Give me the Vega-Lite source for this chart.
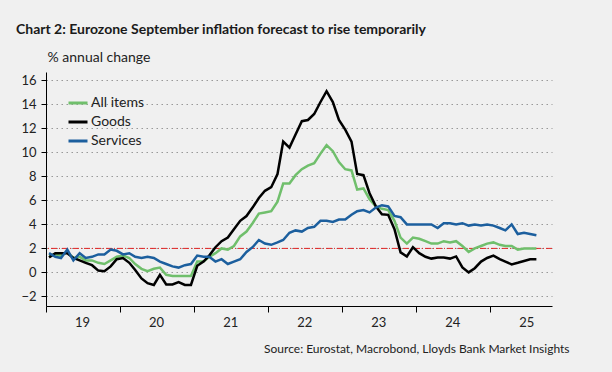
{
  "$schema": "https://vega.github.io/schema/vega-lite/v6.json",
  "width": 506,
  "height": 234,
  "autosize": {"type": "none"},
  "padding": {"left": 46, "top": 72, "right": 60, "bottom": 66},
  "background": "#f0f0f0",
  "config": {
    "view": {"stroke": null},
    "font": "Lato",
    "axis": {"labelFont": "Lato", "titleFont": "Lato", "labelColor": "#222", "titleColor": "#222"},
    "legend": {"labelFont": "Lato"}
  },
  "title": {
    "text": "Chart 2: Eurozone September inflation forecast to rise temporarily",
    "anchor": "start",
    "frame": "group",
    "dx": -30,
    "offset": 13,
    "font": "Lato",
    "fontSize": 14,
    "fontWeight": "bold",
    "color": "#1a1a1a"
  },
  "encoding": {
    "y": {
      "field": "value",
      "type": "quantitative",
      "scale": {"domain": [-2.8, 16.7], "nice": false, "zero": false},
      "axis": {
        "values": [-2, 0, 2, 4, 6, 8, 10, 12, 14, 16],
        "labelFontSize": 13,
        "labelPadding": 5,
        "labelOverlap": false,
        "labelFlush": false,
        "tickSize": 5,
        "tickColor": "#000",
        "domainColor": "#000",
        "grid": true,
        "gridColor": "#999",
        "gridDash": [1.5, 3.5],
        "gridWidth": 1,
        "title": "% annual change",
        "titleFontSize": 14,
        "titleFontWeight": "normal",
        "titleAngle": 0,
        "titleAlign": "left",
        "titleAnchor": null,
        "titleBaseline": "alphabetic",
        "titleX": 1,
        "titleY": -11
      }
    }
  },
  "layer": [
    {
      "data": {"values": [{"value": 2}]},
      "mark": {"type": "rule", "color": "#e02424", "strokeWidth": 1, "strokeDash": [6, 2, 1, 2]}
    },
    {
      "data": {
        "values": [
          {"month":"2019-01-16","All items":1.4,"Goods":1.25,"Services":1.6},
          {"month":"2019-02-16","All items":1.5,"Goods":1.6,"Services":1.3},
          {"month":"2019-03-16","All items":1.4,"Goods":1.6,"Services":1.2},
          {"month":"2019-04-16","All items":1.7,"Goods":1.6,"Services":1.9},
          {"month":"2019-05-16","All items":1.2,"Goods":1.2,"Services":1.0},
          {"month":"2019-06-16","All items":1.3,"Goods":1.0,"Services":1.6},
          {"month":"2019-07-16","All items":1.0,"Goods":0.8,"Services":1.2},
          {"month":"2019-08-16","All items":1.0,"Goods":0.6,"Services":1.3},
          {"month":"2019-09-16","All items":0.8,"Goods":0.15,"Services":1.5},
          {"month":"2019-10-16","All items":0.7,"Goods":0.1,"Services":1.5},
          {"month":"2019-11-16","All items":1.0,"Goods":0.5,"Services":1.9},
          {"month":"2019-12-16","All items":1.3,"Goods":1.1,"Services":1.8},
          {"month":"2020-01-16","All items":1.4,"Goods":1.2,"Services":1.5},
          {"month":"2020-02-16","All items":1.2,"Goods":0.8,"Services":1.6},
          {"month":"2020-03-16","All items":0.7,"Goods":0.2,"Services":1.3},
          {"month":"2020-04-16","All items":0.3,"Goods":-0.5,"Services":1.2},
          {"month":"2020-05-16","All items":0.1,"Goods":-0.9,"Services":1.3},
          {"month":"2020-06-16","All items":0.3,"Goods":-1.05,"Services":1.2},
          {"month":"2020-07-16","All items":0.4,"Goods":-0.2,"Services":0.9},
          {"month":"2020-08-16","All items":-0.2,"Goods":-1.0,"Services":0.7},
          {"month":"2020-09-16","All items":-0.3,"Goods":-1.0,"Services":0.5},
          {"month":"2020-10-16","All items":-0.3,"Goods":-0.8,"Services":0.4},
          {"month":"2020-11-16","All items":-0.3,"Goods":-1.05,"Services":0.6},
          {"month":"2020-12-16","All items":-0.3,"Goods":-1.05,"Services":0.7},
          {"month":"2021-01-16","All items":0.9,"Goods":0.55,"Services":1.4},
          {"month":"2021-02-16","All items":0.9,"Goods":0.9,"Services":1.3},
          {"month":"2021-03-16","All items":1.3,"Goods":1.4,"Services":1.3},
          {"month":"2021-04-16","All items":1.6,"Goods":2.1,"Services":0.9},
          {"month":"2021-05-16","All items":2.0,"Goods":2.6,"Services":1.1},
          {"month":"2021-06-16","All items":1.9,"Goods":2.9,"Services":0.7},
          {"month":"2021-07-16","All items":2.2,"Goods":3.6,"Services":0.9},
          {"month":"2021-08-16","All items":3.0,"Goods":4.3,"Services":1.1},
          {"month":"2021-09-16","All items":3.4,"Goods":4.7,"Services":1.7},
          {"month":"2021-10-16","All items":4.1,"Goods":5.4,"Services":2.1},
          {"month":"2021-11-16","All items":4.9,"Goods":6.2,"Services":2.7},
          {"month":"2021-12-16","All items":5.0,"Goods":6.8,"Services":2.4},
          {"month":"2022-01-16","All items":5.1,"Goods":7.1,"Services":2.3},
          {"month":"2022-02-16","All items":5.9,"Goods":8.2,"Services":2.5},
          {"month":"2022-03-16","All items":7.4,"Goods":10.9,"Services":2.7},
          {"month":"2022-04-16","All items":7.4,"Goods":10.4,"Services":3.3},
          {"month":"2022-05-16","All items":8.1,"Goods":11.5,"Services":3.5},
          {"month":"2022-06-16","All items":8.6,"Goods":12.6,"Services":3.4},
          {"month":"2022-07-16","All items":8.9,"Goods":12.7,"Services":3.7},
          {"month":"2022-08-16","All items":9.1,"Goods":13.2,"Services":3.8},
          {"month":"2022-09-16","All items":9.9,"Goods":14.2,"Services":4.3},
          {"month":"2022-10-16","All items":10.6,"Goods":15.1,"Services":4.3},
          {"month":"2022-11-16","All items":10.1,"Goods":14.2,"Services":4.2},
          {"month":"2022-12-16","All items":9.2,"Goods":12.7,"Services":4.4},
          {"month":"2023-01-16","All items":8.6,"Goods":11.9,"Services":4.4},
          {"month":"2023-02-16","All items":8.5,"Goods":10.9,"Services":4.8},
          {"month":"2023-03-16","All items":6.9,"Goods":8.2,"Services":5.1},
          {"month":"2023-04-16","All items":7.0,"Goods":8.1,"Services":5.2},
          {"month":"2023-05-16","All items":6.1,"Goods":6.6,"Services":5.0},
          {"month":"2023-06-16","All items":5.5,"Goods":5.5,"Services":5.4},
          {"month":"2023-07-16","All items":5.3,"Goods":4.85,"Services":5.6},
          {"month":"2023-08-16","All items":5.2,"Goods":4.8,"Services":5.5},
          {"month":"2023-09-16","All items":4.3,"Goods":3.6,"Services":4.7},
          {"month":"2023-10-16","All items":2.9,"Goods":1.67,"Services":4.6},
          {"month":"2023-11-16","All items":2.4,"Goods":1.33,"Services":4.0},
          {"month":"2023-12-16","All items":2.9,"Goods":2.1,"Services":4.0},
          {"month":"2024-01-16","All items":2.8,"Goods":1.6,"Services":4.0},
          {"month":"2024-02-16","All items":2.6,"Goods":1.3,"Services":4.0},
          {"month":"2024-03-16","All items":2.4,"Goods":1.15,"Services":4.0},
          {"month":"2024-04-16","All items":2.4,"Goods":1.25,"Services":3.7},
          {"month":"2024-05-16","All items":2.6,"Goods":1.25,"Services":4.1},
          {"month":"2024-06-16","All items":2.5,"Goods":1.15,"Services":4.1},
          {"month":"2024-07-16","All items":2.6,"Goods":1.33,"Services":4.0},
          {"month":"2024-08-16","All items":2.2,"Goods":0.42,"Services":4.1},
          {"month":"2024-09-16","All items":1.7,"Goods":0.0,"Services":3.9},
          {"month":"2024-10-16","All items":2.0,"Goods":0.35,"Services":4.0},
          {"month":"2024-11-16","All items":2.2,"Goods":0.9,"Services":3.9},
          {"month":"2024-12-16","All items":2.4,"Goods":1.2,"Services":4.0},
          {"month":"2025-01-16","All items":2.5,"Goods":1.4,"Services":3.9},
          {"month":"2025-02-16","All items":2.3,"Goods":1.1,"Services":3.7},
          {"month":"2025-03-16","All items":2.2,"Goods":0.9,"Services":3.5},
          {"month":"2025-04-16","All items":2.2,"Goods":0.67,"Services":4.0},
          {"month":"2025-05-16","All items":1.9,"Goods":0.8,"Services":3.2},
          {"month":"2025-06-16","All items":2.0,"Goods":0.95,"Services":3.3},
          {"month":"2025-07-16","All items":2.0,"Goods":1.1,"Services":3.2},
          {"month":"2025-08-16","All items":2.0,"Goods":1.1,"Services":3.1}
        ]
      },
      "transform": [{"fold": ["All items", "Goods", "Services"], "as": ["series", "value"]}],
      "mark": {"type": "line", "strokeWidth": 2.5, "strokeJoin": "miter"},
      "encoding": {
        "x": {
          "field": "month",
          "type": "temporal",
          "scale": {
            "type": "utc",
            "domain": [{"year": 2019, "month": 1, "date": 1, "utc": true}, {"year": 2025, "month": 11, "date": 1, "utc": true}]
          },
          "axis": {
            "values": [
              {"year": 2019, "month": 1, "date": 1, "utc": true},
              {"year": 2020, "month": 1, "date": 1, "utc": true},
              {"year": 2021, "month": 1, "date": 1, "utc": true},
              {"year": 2022, "month": 1, "date": 1, "utc": true},
              {"year": 2023, "month": 1, "date": 1, "utc": true},
              {"year": 2024, "month": 1, "date": 1, "utc": true},
              {"year": 2025, "month": 1, "date": 1, "utc": true}
            ],
            "labelExpr": "utcFormat(datum.value, '%y')",
            "labelFontSize": 13,
            "labelPadding": 4,
            "labelOffset": 36,
            "labelOverlap": false,
            "labelBound": false,
            "labelFlush": false,
            "tickSize": 6,
            "tickColor": "#000",
            "domainColor": "#000",
            "grid": false,
            "title": "Source: Eurostat, Macrobond, Lloyds Bank Market Insights",
            "titleFontSize": 12,
            "titleFontWeight": "normal",
            "titleAngle": 0,
            "titleAlign": "right",
            "titleAnchor": null,
            "titleBaseline": "alphabetic",
            "titleX": 523,
            "titleY": 46
          }
        },
        "color": {
          "field": "series",
          "type": "nominal",
          "scale": {"domain": ["All items", "Goods", "Services"], "range": ["#70bf6c", "#000000", "#1c5f9e"]},
          "legend": {
            "title": null,
            "orient": "none",
            "legendX": 21,
            "legendY": 20,
            "symbolType": "stroke",
            "symbolSize": 361,
            "symbolStrokeWidth": 3,
            "labelFontSize": 14,
            "labelColor": "#222",
            "labelOffset": 2,
            "rowPadding": 1,
            "padding": 0
          }
        }
      }
    }
  ]
}
